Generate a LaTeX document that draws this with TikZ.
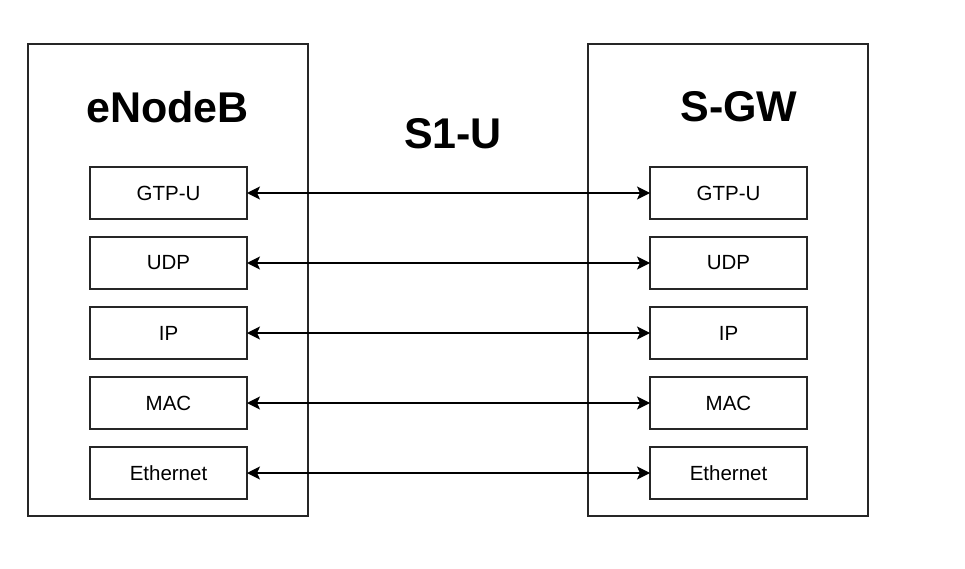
\documentclass[tikz,border=0pt]{standalone}
\usepackage{fontspec}
\setmainfont{Liberation Sans}
\usetikzlibrary{arrows.meta,positioning}

\begin{document}
\begin{tikzpicture}[
  x=1pt, y=-1pt,
  font=\fontsize{20.5}{24}\selectfont,
  >={Stealth[length=13pt, width=13pt, inset=3pt]},
  entity/.style={draw=black!85, line width=1.5pt, minimum width=280pt,
    minimum height=472pt, inner sep=0pt},
  layer/.style={draw=black!85, line width=1.5pt, minimum width=157pt,
    minimum height=52pt, inner sep=0pt, outer sep=0pt},
  title/.style={font=\fontsize{43}{48}\selectfont\bfseries, inner sep=0pt},
  link/.style={<->, line width=1.5pt}
]
  \useasboundingbox (0,0) rectangle (965,569);

  \node[entity] (enb) at (168,280) {};
  \node[entity] (sgw) at (728,280) {};

  \node[title] (enbname) at (167.5,107) {eNodeB};
  \node[title] (sgwname) at (739,107) {S-GW};
  \node[title] (iface) at (453,134) {S1-U};

  % eNodeB stack
  \node[layer] (egtp) at (168.5,193) {GTP-U};
  \node[layer, below=18pt of egtp] (eudp) {UDP};
  \node[layer, below=18pt of eudp] (eip) {IP};
  \node[layer, below=18pt of eip] (emac) {MAC};
  \node[layer, below=18pt of emac] (eeth) {Ethernet};

  % S-GW stack
  \node[layer] (sgtp) at (728.5,193) {GTP-U};
  \node[layer, below=18pt of sgtp] (sudp) {UDP};
  \node[layer, below=18pt of sudp] (sip) {IP};
  \node[layer, below=18pt of sip] (smac) {MAC};
  \node[layer, below=18pt of smac] (seth) {Ethernet};

  \draw[link] (egtp) -- (sgtp);
  \draw[link] (eudp) -- (sudp);
  \draw[link] (eip) -- (sip);
  \draw[link] (emac) -- (smac);
  \draw[link] (eeth) -- (seth);
\end{tikzpicture}
\end{document}
